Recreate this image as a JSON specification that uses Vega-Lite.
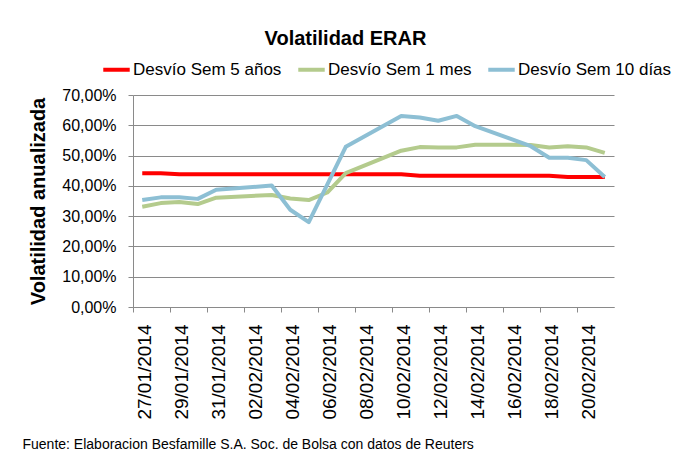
{
  "$schema": "https://vega.github.io/schema/vega-lite/v6.json",
  "width": 481,
  "height": 212,
  "autosize": {"type": "none"},
  "padding": {"left": 133, "top": 95, "right": 64, "bottom": 146},
  "background": "white",
  "title": {
    "text": "Volatilidad ERAR",
    "font": "Liberation Sans",
    "fontSize": 20,
    "fontWeight": "bold",
    "color": "black",
    "anchor": "middle",
    "dx": -28,
    "baseline": "alphabetic",
    "offset": -11
  },
  "data": {
    "values": [
      {"fecha": "2014-01-27T12:00:00", "serie": "Desvío Sem 5 años", "valor": 0.442},
      {"fecha": "2014-01-28T12:00:00", "serie": "Desvío Sem 5 años", "valor": 0.442},
      {"fecha": "2014-01-29T12:00:00", "serie": "Desvío Sem 5 años", "valor": 0.438},
      {"fecha": "2014-01-30T12:00:00", "serie": "Desvío Sem 5 años", "valor": 0.438},
      {"fecha": "2014-01-31T12:00:00", "serie": "Desvío Sem 5 años", "valor": 0.438},
      {"fecha": "2014-02-03T12:00:00", "serie": "Desvío Sem 5 años", "valor": 0.438},
      {"fecha": "2014-02-04T12:00:00", "serie": "Desvío Sem 5 años", "valor": 0.438},
      {"fecha": "2014-02-05T12:00:00", "serie": "Desvío Sem 5 años", "valor": 0.438},
      {"fecha": "2014-02-06T12:00:00", "serie": "Desvío Sem 5 años", "valor": 0.438},
      {"fecha": "2014-02-07T12:00:00", "serie": "Desvío Sem 5 años", "valor": 0.438},
      {"fecha": "2014-02-10T12:00:00", "serie": "Desvío Sem 5 años", "valor": 0.438},
      {"fecha": "2014-02-11T12:00:00", "serie": "Desvío Sem 5 años", "valor": 0.433},
      {"fecha": "2014-02-12T12:00:00", "serie": "Desvío Sem 5 años", "valor": 0.433},
      {"fecha": "2014-02-13T12:00:00", "serie": "Desvío Sem 5 años", "valor": 0.433},
      {"fecha": "2014-02-14T12:00:00", "serie": "Desvío Sem 5 años", "valor": 0.433},
      {"fecha": "2014-02-17T12:00:00", "serie": "Desvío Sem 5 años", "valor": 0.433},
      {"fecha": "2014-02-18T12:00:00", "serie": "Desvío Sem 5 años", "valor": 0.433},
      {"fecha": "2014-02-19T12:00:00", "serie": "Desvío Sem 5 años", "valor": 0.429},
      {"fecha": "2014-02-20T12:00:00", "serie": "Desvío Sem 5 años", "valor": 0.429},
      {"fecha": "2014-02-21T12:00:00", "serie": "Desvío Sem 5 años", "valor": 0.429},

      {"fecha": "2014-01-27T12:00:00", "serie": "Desvío Sem 1 mes", "valor": 0.331},
      {"fecha": "2014-01-28T12:00:00", "serie": "Desvío Sem 1 mes", "valor": 0.343},
      {"fecha": "2014-01-29T12:00:00", "serie": "Desvío Sem 1 mes", "valor": 0.347},
      {"fecha": "2014-01-30T12:00:00", "serie": "Desvío Sem 1 mes", "valor": 0.340},
      {"fecha": "2014-01-31T12:00:00", "serie": "Desvío Sem 1 mes", "valor": 0.361},
      {"fecha": "2014-02-03T12:00:00", "serie": "Desvío Sem 1 mes", "valor": 0.370},
      {"fecha": "2014-02-04T12:00:00", "serie": "Desvío Sem 1 mes", "valor": 0.358},
      {"fecha": "2014-02-05T12:00:00", "serie": "Desvío Sem 1 mes", "valor": 0.353},
      {"fecha": "2014-02-06T12:00:00", "serie": "Desvío Sem 1 mes", "valor": 0.378},
      {"fecha": "2014-02-07T12:00:00", "serie": "Desvío Sem 1 mes", "valor": 0.442},
      {"fecha": "2014-02-10T12:00:00", "serie": "Desvío Sem 1 mes", "valor": 0.516},
      {"fecha": "2014-02-11T12:00:00", "serie": "Desvío Sem 1 mes", "valor": 0.528},
      {"fecha": "2014-02-12T12:00:00", "serie": "Desvío Sem 1 mes", "valor": 0.527},
      {"fecha": "2014-02-13T12:00:00", "serie": "Desvío Sem 1 mes", "valor": 0.527},
      {"fecha": "2014-02-14T12:00:00", "serie": "Desvío Sem 1 mes", "valor": 0.536},
      {"fecha": "2014-02-17T12:00:00", "serie": "Desvío Sem 1 mes", "valor": 0.535},
      {"fecha": "2014-02-18T12:00:00", "serie": "Desvío Sem 1 mes", "valor": 0.527},
      {"fecha": "2014-02-19T12:00:00", "serie": "Desvío Sem 1 mes", "valor": 0.531},
      {"fecha": "2014-02-20T12:00:00", "serie": "Desvío Sem 1 mes", "valor": 0.527},
      {"fecha": "2014-02-21T12:00:00", "serie": "Desvío Sem 1 mes", "valor": 0.509},

      {"fecha": "2014-01-27T12:00:00", "serie": "Desvío Sem 10 días", "valor": 0.353},
      {"fecha": "2014-01-28T12:00:00", "serie": "Desvío Sem 10 días", "valor": 0.362},
      {"fecha": "2014-01-29T12:00:00", "serie": "Desvío Sem 10 días", "valor": 0.362},
      {"fecha": "2014-01-30T12:00:00", "serie": "Desvío Sem 10 días", "valor": 0.357},
      {"fecha": "2014-01-31T12:00:00", "serie": "Desvío Sem 10 días", "valor": 0.387},
      {"fecha": "2014-02-03T12:00:00", "serie": "Desvío Sem 10 días", "valor": 0.401},
      {"fecha": "2014-02-04T12:00:00", "serie": "Desvío Sem 10 días", "valor": 0.321},
      {"fecha": "2014-02-05T12:00:00", "serie": "Desvío Sem 10 días", "valor": 0.280},
      {"fecha": "2014-02-06T12:00:00", "serie": "Desvío Sem 10 días", "valor": 0.404},
      {"fecha": "2014-02-07T12:00:00", "serie": "Desvío Sem 10 días", "valor": 0.529},
      {"fecha": "2014-02-10T12:00:00", "serie": "Desvío Sem 10 días", "valor": 0.631},
      {"fecha": "2014-02-11T12:00:00", "serie": "Desvío Sem 10 días", "valor": 0.626},
      {"fecha": "2014-02-12T12:00:00", "serie": "Desvío Sem 10 días", "valor": 0.615},
      {"fecha": "2014-02-13T12:00:00", "serie": "Desvío Sem 10 días", "valor": 0.631},
      {"fecha": "2014-02-14T12:00:00", "serie": "Desvío Sem 10 días", "valor": 0.597},
      {"fecha": "2014-02-17T12:00:00", "serie": "Desvío Sem 10 días", "valor": 0.531},
      {"fecha": "2014-02-18T12:00:00", "serie": "Desvío Sem 10 días", "valor": 0.493},
      {"fecha": "2014-02-19T12:00:00", "serie": "Desvío Sem 10 días", "valor": 0.493},
      {"fecha": "2014-02-20T12:00:00", "serie": "Desvío Sem 10 días", "valor": 0.485},
      {"fecha": "2014-02-21T12:00:00", "serie": "Desvío Sem 10 días", "valor": 0.429}
    ]
  },
  "mark": {"type": "line", "strokeWidth": 4, "strokeJoin": "round"},
  "encoding": {
    "x": {
      "field": "fecha",
      "type": "temporal",
      "scale": {
        "domain": [
          {"year": 2014, "month": 1, "date": 27},
          {"year": 2014, "month": 2, "date": 22}
        ]
      },
      "axis": {
        "values": [
          {"year": 2014, "month": 1, "date": 27},
          {"year": 2014, "month": 1, "date": 29},
          {"year": 2014, "month": 1, "date": 31},
          {"year": 2014, "month": 2, "date": 2},
          {"year": 2014, "month": 2, "date": 4},
          {"year": 2014, "month": 2, "date": 6},
          {"year": 2014, "month": 2, "date": 8},
          {"year": 2014, "month": 2, "date": 10},
          {"year": 2014, "month": 2, "date": 12},
          {"year": 2014, "month": 2, "date": 14},
          {"year": 2014, "month": 2, "date": 16},
          {"year": 2014, "month": 2, "date": 18},
          {"year": 2014, "month": 2, "date": 20}
        ],
        "format": "%d/%m/%Y",
        "labelAngle": -90,
        "labelOffset": 11,
        "labelPadding": 12,
        "labelFont": "Liberation Sans",
        "labelFontSize": 19,
        "labelColor": "black",
        "labelFlush": false,
        "labelOverlap": false,
        "labelBound": false,
        "grid": false,
        "tickSize": 5,
        "tickColor": "#8a8a8a",
        "domainColor": "#8a8a8a",
        "title": "Fuente: Elaboracion Besfamille S.A. Soc. de Bolsa con datos de Reuters",
        "titleFont": "Liberation Sans",
        "titleFontSize": 14,
        "titleFontWeight": "normal",
        "titleColor": "black",
        "titleAlign": "left",
        "titleAnchor": "start",
        "titleBaseline": "alphabetic",
        "titleX": -111,
        "titleY": 141
      }
    },
    "y": {
      "field": "valor",
      "type": "quantitative",
      "scale": {"domain": [0, 0.7]},
      "axis": {
        "values": [0, 0.1, 0.2, 0.3, 0.4, 0.5, 0.6, 0.7],
        "labelExpr": "replace(format(datum.value, '.2%'), '.', ',')",
        "labelFont": "Liberation Sans",
        "labelFontSize": 16,
        "labelColor": "black",
        "labelPadding": 12,
        "tickSize": 5,
        "tickColor": "#8a8a8a",
        "domainColor": "#8a8a8a",
        "grid": true,
        "gridColor": "#8a8a8a",
        "gridWidth": 1,
        "title": "Volatilidad anualizada",
        "titleFont": "Liberation Sans",
        "titleFontSize": 20,
        "titleFontWeight": "bold",
        "titleColor": "black",
        "titleAngle": 270,
        "titleAlign": "center",
        "titleBaseline": "middle",
        "titleX": -95,
        "titleY": 106
      }
    },
    "color": {
      "field": "serie",
      "type": "nominal",
      "sort": ["Desvío Sem 5 años", "Desvío Sem 1 mes", "Desvío Sem 10 días"],
      "scale": {
        "domain": ["Desvío Sem 5 años", "Desvío Sem 1 mes", "Desvío Sem 10 días"],
        "range": ["#ff0000", "#b4cb8d", "#8dbfd4"]
      },
      "legend": {
        "title": null,
        "orient": "none",
        "direction": "horizontal",
        "legendX": -32,
        "legendY": -41,
        "symbolType": "stroke",
        "symbolStrokeWidth": 4,
        "symbolSize": 700,
        "labelFont": "Liberation Sans",
        "labelFontSize": 17,
        "labelColor": "black",
        "labelOffset": 1,
        "labelLimit": 300,
        "columnPadding": 8
      }
    }
  },
  "config": {"view": {"stroke": null}}
}
